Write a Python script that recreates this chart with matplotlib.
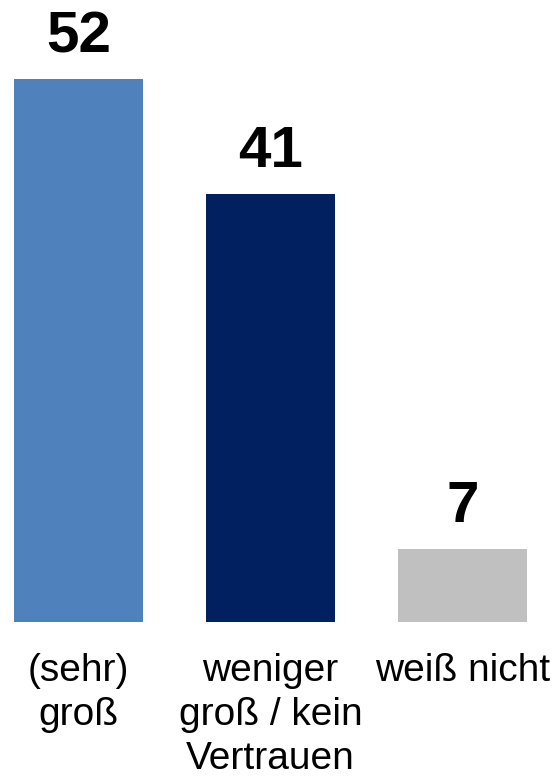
import matplotlib.pyplot as plt
from matplotlib.transforms import blended_transform_factory

plt.rcParams['font.family'] = ['Liberation Sans', 'DejaVu Sans']

# Daten
kategorien = ['(sehr)\ngroß', 'weniger\ngroß / kein\nVertrauen', 'weiß nicht']
werte = [52, 41, 7]
farben = ['#4F81BD', '#002060', '#C0C0C0']

fig = plt.figure(figsize=(5.58, 7.79), dpi=100)
ax = fig.add_axes([0, 0.2015, 1, 0.7985])

x = range(len(werte))
ax.bar(x, werte, width=0.672, color=farben)

ax.set_xlim(-0.409, 2.497)
ax.set_ylim(0, 59.6)
ax.axis('off')

# Werte über den Balken
for i, v in enumerate(werte):
    ax.annotate(str(v), (i, v), xytext=(0, 15), textcoords='offset pixels',
                ha='center', va='bottom', fontsize=42, fontweight='bold')

# Kategorien unter den Balken
trans = blended_transform_factory(ax.transData, fig.transFigure)
for i, k in enumerate(kategorien):
    ax.text(i, 1 - 653 / 779, k, transform=trans, ha='center', va='top',
            fontsize=28, linespacing=1.28, multialignment='center')

plt.savefig('out.png', dpi=100)
